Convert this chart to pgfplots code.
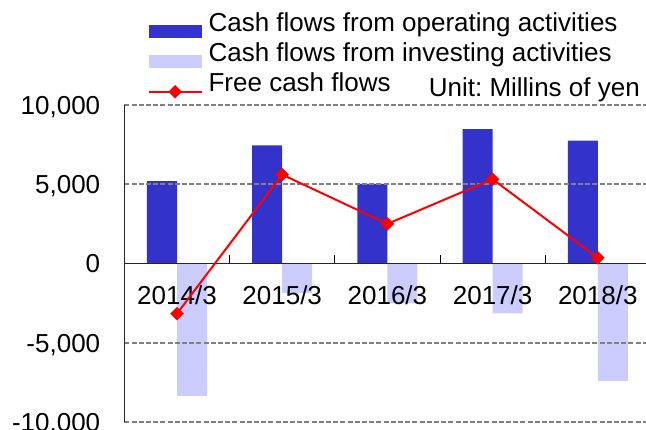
\documentclass[border=0pt]{standalone}
\usepackage{pgfplots}
\pgfplotsset{compat=1.18}
\usepackage{fontspec}
\setmainfont{Liberation Sans}
\frenchspacing
\definecolor{opc}{RGB}{51,51,204}
\definecolor{invc}{RGB}{204,204,255}
\definecolor{gridc}{RGB}{128,128,128}
\pgfplotsset{
  layers/mylayers/.define layer set={axis background, axis grid, pre main, main, axis ticks, axis lines, axis tick labels, axis descriptions, axis foreground}{},
}
\begin{document}
\begin{tikzpicture}[font=\fontsize{26bp}{30bp}\selectfont]
\begin{axis}[
  name=ax,
  set layers=mylayers,
  scale only axis,
  width=526bp, height=317bp,
  xmin=-0.5, xmax=4.5,
  ymin=-10000, ymax=10000,
  axis x line*=middle,
  axis y line*=left,
  axis line style={black!85, line width=1.2bp},
  xtick={0,1,2,3,4},
  xticklabels={2014/3,2015/3,2016/3,2017/3,2018/3},
  minor xtick={0.5,1.5,2.5,3.5},
  major tick length=0pt,
  minor tick length=8bp,
  tick align=inside,
  minor tick style={black, line width=0.8bp},
  xticklabel style={anchor=base, inner sep=0pt, yshift=-41bp},
  ytick={-10000,-5000,0,5000,10000},
  yticklabels={{-10,000},{-5,000},{0},{5,000},{10,000}},
  scaled y ticks=false,
  yticklabel style={anchor=base east, inner sep=0pt, xshift=-24bp, yshift=-9.4bp},
  ytick style={draw=none},
  ymajorgrids,
  grid style={gridc, line width=1.8bp, dash pattern=on 5bp off 2.2bp},
  legend style={at={(0,1)}, anchor=south west, xshift=23bp, yshift=5bp,
    draw=none, fill=none, inner sep=0pt, row sep=0pt, column sep=6bp,
    nodes={inner xsep=0pt, inner ysep=3bp, text height=19bp, text depth=5bp, anchor=base west}},
  legend cell align=left,
  clip=false,
]
\addplot[on layer=pre main, ybar, bar width=30bp, bar shift=-15bp, fill=opc, draw=none,
  legend image code/.code={\fill[opc] (0bp,-6.7bp) rectangle (53bp,6.7bp);}]
  coordinates {(0,5190) (1,7460) (2,5020) (3,8470) (4,7760)};
\addlegendentry{Cash flows from operating activities}
\addplot[on layer=pre main, ybar, bar width=30bp, bar shift=15bp, fill=invc, draw=none,
  legend image code/.code={\fill[invc] (0bp,-6.7bp) rectangle (53bp,6.7bp);}]
  coordinates {(0,-8350) (1,-1850) (2,-2520) (3,-3150) (4,-7400)};
\addlegendentry{Cash flows from investing activities}
\addplot[on layer=axis foreground, red, line width=2bp, mark=square*, mark size=3.8bp, mark options={rotate=45, solid, fill=red},
  legend image code/.code={\draw[red, line width=2bp] (0bp,0bp) -- (53bp,0bp);
    \fill[red, rotate around={45:(26.5bp,0bp)}] (22.7bp,-3.8bp) rectangle (30.3bp,3.8bp);}]
  coordinates {(0,-3160) (1,5610) (2,2500) (3,5320) (4,360)};
\addlegendentry{Free cash flows}
\end{axis}
\node[anchor=base east, inner sep=0pt] at ([xshift=515.6bp, yshift=8.5bp]ax.north west) {Unit: Millins of yen};
\pgfresetboundingbox
\path ([xshift=-124.4bp, yshift=-8bp]ax.south west) rectangle ([xshift=521.6bp, yshift=422bp]ax.south west);
\end{tikzpicture}
\end{document}
